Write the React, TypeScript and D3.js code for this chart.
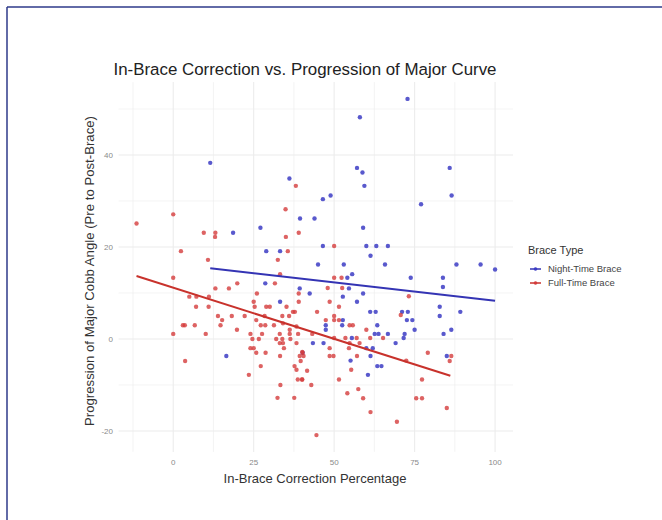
import React from "react";
import * as d3 from "d3";

// ---- data ----
const nightX = [11.5,18.6,27.1,28.9,33.2,36.1,39.4,43.9,45.0,72.8,58.0,57.1,58.8,59.4,85.9,86.5,77.0,46.5,48.9,59.0,46.5,60.0,63.1,66.7,61.3,53.0,65.8,88.0,95.5,100,55.6,54.1,73.8,83.8,54.6,83.8,42.4,59.0,57.1,82.8,89.2,61.2,62.9,71.1,72.9,82.8,47.4,47.4,72.6,74.3,63.4,52.5,75.0,86.4,62.6,63.8,66.7,71.9,84.0,71.6,55.5,43.4,46.7,69.1,60.0,62.0,61.3,85.0,55.1,63.4,64.7,60.5,28.6,39.3,33.2,40.2,16.5,52.7,52.7];
const nightY = [38.3,23.1,24.2,19.1,19.1,34.9,26.2,26.2,16.2,52.2,48.2,37.2,36.2,33.3,37.2,31.2,29.3,30.4,31.2,24.2,20.2,20.2,20.2,20.2,18.1,16.2,16.2,16.2,16.2,15.1,14.1,13.3,13.3,13.3,11.0,11.3,9.9,9.9,8.1,7.0,5.9,5.9,5.9,5.9,5.9,5.0,3.0,2.0,4.1,4.1,3.0,3.0,2.0,2.0,1.1,1.1,1.1,1.1,1.1,0.2,0.2,-0.9,-0.9,-0.9,-2.0,-2.0,-3.7,-3.7,-4.7,-5.9,-5.9,-7.8,12.1,11.0,8.1,-3.0,-3.7,9.2,4.1];

const fullX = [-11.4,0,2.4,9.5,13.1,13.0,10.8,0,35.6,32.5,33.2,34.9,38.1,35.0,39.0,50.0,50.0,52.3,48.0,52.5,73.2,44.7,48.6,51.5,70.7,50.0,47.4,50.0,51.5,54.8,55.8,60.0,43.2,50.0,53.5,57.0,65.2,61.2,54.8,57.9,48.6,54.6,40.1,79.1,48.6,49.8,57.1,86.4,85.9,55.3,72.4,41.6,40.1,51.5,77.3,42.9,54.1,57.5,59.0,75.5,77.3,61.3,85.0,69.5,44.5,13.1,17.3,19.9,31.6,39.0,26.0,5.0,7.2,11.1,7.1,11.0,25.0,39.0,25.3,28.9,30.0,37.2,37.8,35.2,13.9,18.2,22.2,15.2,25.8,28.4,33.9,36.0,34.1,3.0,3.6,6.7,14.7,27.2,28.6,31.3,19.8,36.2,38.3,0,10.1,24.0,27.6,33.1,36.2,38.8,24.6,26.6,32.0,33.9,36.4,33.1,34.1,38.3,24.0,25.0,28.7,25.8,34.4,40.2,39.3,40.5,33.2,3.7,39.6,27.2,37.7,38.3,23.5,38.7,40.0,33.3,32.4,37.6];
const fullY = [25.1,27.1,19.1,23.1,23.1,22.2,17.2,13.3,19.1,17.2,14.1,28.2,33.3,22.2,23.1,20.2,13.3,13.3,11.1,11.1,9.3,5.9,8.1,7.0,5.2,5.0,4.1,4.1,4.1,3.0,3.0,2.0,1.1,0.2,0.2,0.2,0.2,0.2,-0.9,-0.9,-2.0,-2.0,-2.8,-3.0,-3.7,-3.7,-3.7,-3.7,-4.8,-6.7,-4.7,-6.9,-8.8,-8.8,-8.8,-10.0,-11.8,-10.9,-12.9,-12.9,-12.9,-15.9,-15.0,-18.0,-20.9,11.0,11.0,12.1,12.1,9.9,9.9,9.2,9.2,9.2,7.0,7.0,8.1,8.1,7.0,7.0,7.0,5.9,5.9,7.0,5.0,5.0,5.0,4.1,4.1,5.0,5.0,5.0,3.4,3.0,3.0,3.0,3.0,3.0,3.0,3.0,2.0,2.0,2.7,1.1,1.1,1.1,1.1,1.1,1.1,1.1,0,0,0,0,0,-0.9,-0.9,-0.9,-2.0,-2.0,-3.0,-3.0,-2.0,-3.0,-3.7,-3.7,-3.7,-4.8,-4.8,-5.9,-5.9,-6.7,-7.8,-8.8,-8.8,-10.0,-12.8,-12.8];

// fitted lines (start/end)
const nightFitX = [11.5, 100];
const nightFitY = [15.4, 8.3];
const fullFitX = [-11.4, 86.1];
const fullFitY = [13.7, -8.0];

const xTicks = [0, 25, 50, 75, 100];
const xMinor = [-12.5, 12.5, 37.5, 62.5, 87.5];
const yTicks = [-20, 0, 20, 40];
const yMinor = [-10, 10, 30, 50];

const seriesNames = ["Night-Time Brace", "Full-Time Brace"];
const seriesColors = ["#3c3cc4", "#d43c3c"];
const lineColors = ["#3434b4", "#c8322c"];

const W = 662, H = 520;
const P = { left: 118.6, right: 513, top: 82.1, bottom: 451.9 };

export default function App() {
  const allX = [...nightX, ...fullX];
  const allY = [...nightY, ...fullY];
  const [x0, x1] = d3.extent(allX) as [number, number];
  const [y0, y1] = d3.extent(allY) as [number, number];
  const ex = (x1 - x0) * 0.05, ey = (y1 - y0) * 0.05;
  const xs = d3.scaleLinear().domain([x0 - ex, x1 + ex]).range([P.left, P.right]);
  const ys = d3.scaleLinear().domain([y0 - ey, y1 + ey]).range([P.bottom, P.top]);
  const line = d3.line<[number, number]>().x(d => xs(d[0])).y(d => ys(d[1]));

  const night = nightX.map((v, i) => [v, nightY[i]] as [number, number]);
  const full = fullX.map((v, i) => [v, fullY[i]] as [number, number]);
  const font = "'Liberation Sans', Arial, sans-serif";
  const grid = "#ececec";

  return (
    <svg width={W} height={H} style={{ position: "absolute", left: 0, top: 0, background: "#fff" }} fontFamily={font}>
      <rect x={0} y={0} width={W} height={H} fill="#fff" />
      <line x1={7} y1={7} x2={W} y2={7} stroke="#2e3a8a" strokeWidth={1.5} />
      <line x1={7} y1={7} x2={7} y2={H} stroke="#2e3a8a" strokeWidth={1.5} />

      {xMinor.map(t => (
        <line key={"xm" + t} x1={xs(t)} x2={xs(t)} y1={P.top} y2={P.bottom} stroke={grid} strokeWidth={0.6} />
      ))}
      {yMinor.map(t => (
        <line key={"ym" + t} x1={P.left} x2={P.right} y1={ys(t)} y2={ys(t)} stroke={grid} strokeWidth={0.6} />
      ))}
      {xTicks.map(t => (
        <line key={"xg" + t} x1={xs(t)} x2={xs(t)} y1={P.top} y2={P.bottom} stroke={grid} strokeWidth={1.1} />
      ))}
      {yTicks.map(t => (
        <line key={"yg" + t} x1={P.left} x2={P.right} y1={ys(t)} y2={ys(t)} stroke={grid} strokeWidth={1.1} />
      ))}

      {night.map((d, i) => (
        <circle key={"n" + i} cx={xs(d[0])} cy={ys(d[1])} r={2.2} fill={seriesColors[0]} fillOpacity={0.85} />
      ))}
      {full.map((d, i) => (
        <circle key={"f" + i} cx={xs(d[0])} cy={ys(d[1])} r={2.2} fill={seriesColors[1]} fillOpacity={0.8} />
      ))}

      <path d={line(nightFitX.map((v, i) => [v, nightFitY[i]] as [number, number])) || ""} stroke={lineColors[0]} strokeWidth={2} fill="none" />
      <path d={line(fullFitX.map((v, i) => [v, fullFitY[i]] as [number, number])) || ""} stroke={lineColors[1]} strokeWidth={2} fill="none" />

      {xTicks.map(t => (
        <text key={"xt" + t} x={xs(t)} y={465} textAnchor="middle" fontSize={8} fill="#8a8a8a">{t}</text>
      ))}
      {yTicks.map(t => (
        <text key={"yt" + t} x={113} y={ys(t) + 3} textAnchor="end" fontSize={8} fill="#8a8a8a">{t}</text>
      ))}

      <text x={305} y={75} textAnchor="middle" fontSize={16.9} fill="#222">In-Brace Correction vs. Progression of Major Curve</text>
      <text x={315} y={483} textAnchor="middle" fontSize={13} fill="#333">In-Brace Correction Percentage</text>
      <text transform={`translate(94,${(P.top + P.bottom) / 2 + 4}) rotate(-90)`} textAnchor="middle" fontSize={13.2} fill="#333">
        Progression of Major Cobb Angle (Pre to Post-Brace)
      </text>

      <text x={528} y={254} fontSize={11} fill="#333">Brace Type</text>
      {seriesNames.map((n, i) => (
        <g key={n} transform={`translate(0,${269 + i * 14})`}>
          <line x1={530} x2={541} y1={0} y2={0} stroke={lineColors[i]} strokeWidth={1.5} />
          <circle cx={535.5} cy={0} r={1.8} fill={seriesColors[i]} />
          <text x={548} y={3.2} fontSize={9.5} fill="#444">{n}</text>
        </g>
      ))}
    </svg>
  );
}
